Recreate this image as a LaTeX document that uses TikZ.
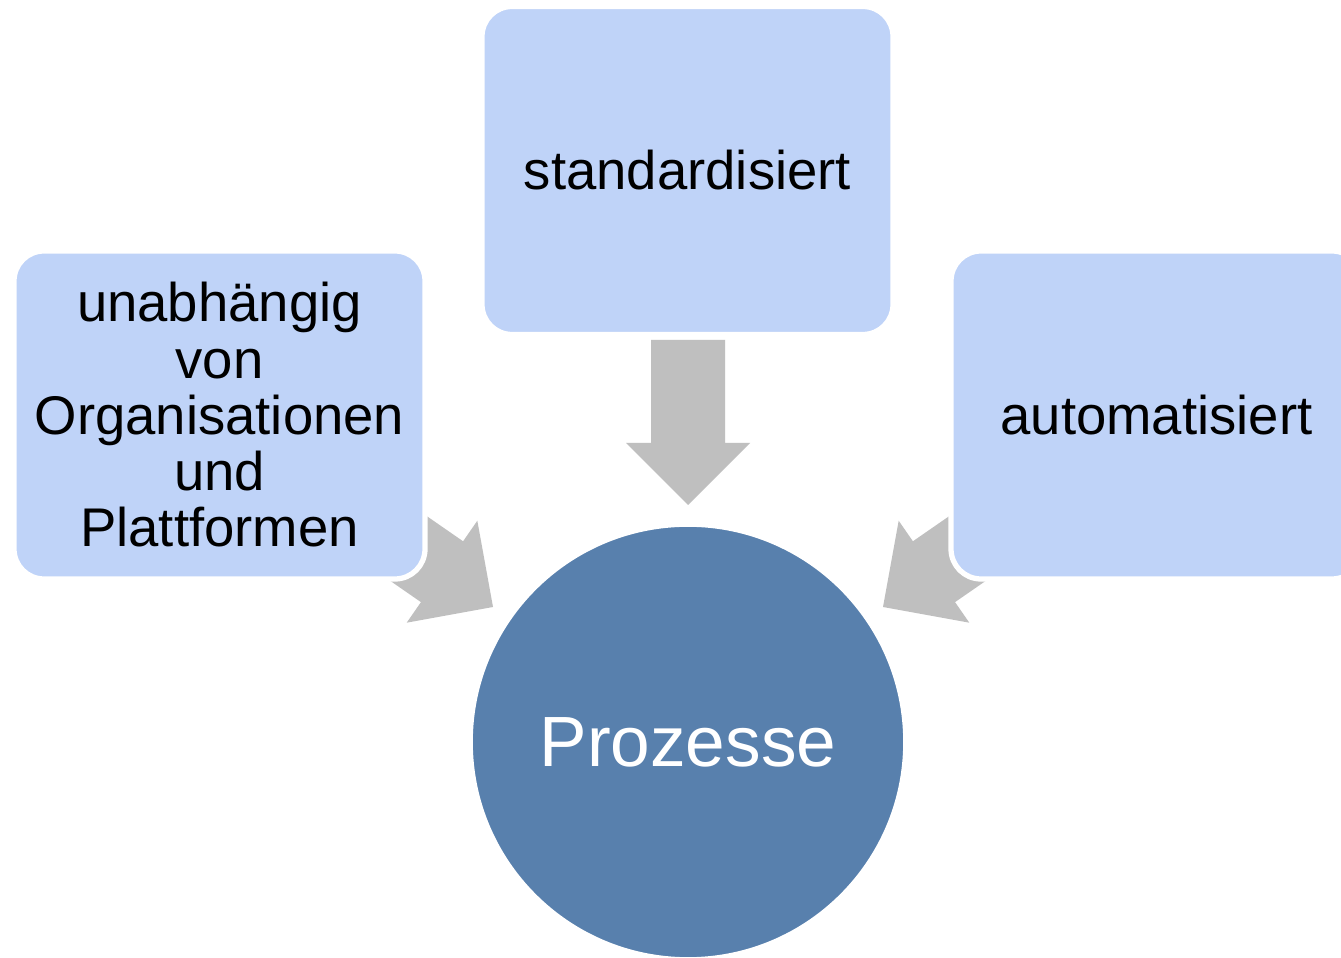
\documentclass[tikz,border=0pt]{standalone}
\usepackage{fontspec}
\setmainfont{Liberation Sans}
\usepackage{tikz}
\usetikzlibrary{calc}
\definecolor{boxblue}{RGB}{191,211,248}
\definecolor{procblue}{RGB}{88,128,173}
\definecolor{arrowgray}{RGB}{191,191,191}
\def\blockarrow[#1](#2)(#3){\fill[#1, shift={(#2)}, rotate=#3] (0,0) -- (-1.24,1.24) -- (-1.24,0.74) -- (-3.3,0.74) -- (-3.3,-0.74) -- (-1.24,-0.74) -- (-1.24,-1.24) -- cycle;}

\begin{document}
\begin{tikzpicture}[
	propbox/.style={rectangle, rounded corners=0.6cm, fill=boxblue, draw=white, line width=3pt, minimum width=8.22cm, minimum height=6.56cm, align=center, font=\fontsize{31}{32}\selectfont},
	proccircle/.style={circle, fill=procblue, draw=white, line width=1.5pt, minimum size=8.66cm, text=white, font=\fontsize{40.5}{48}\selectfont}]
			%%%%% START %%%%%
			
			\useasboundingbox (0, 0) rectangle (26.82, 19.14);
			\clip (0, 0) rectangle (26.82, 19.14);
			\fill[white] (0, 0) rectangle (26.82, 19.14);
			
			\coordinate (tipleft) at (9.86, 7.00);
			\coordinate (tiptop) at (13.76, 9.04);
			\coordinate (tipright) at (17.66, 7.00);
			
			\blockarrow[arrowgray](tipleft)(-34.7)
			\blockarrow[arrowgray](tiptop)(-90)
			\blockarrow[arrowgray](tipright)(214.7)
			
			\node[propbox] (unabh) at (4.39, 10.84) {unabhängig\\von\\Organisationen\\und\\Plattformen};
			\node[propbox] (standard) at (13.75, 15.73) {standardisiert};
			\node[propbox] (auto) at (23.13, 10.84) {automatisiert};
			
			\node[proccircle] (proz) at (13.76, 4.30) {Prozesse};
			
			%%%%% END %%%%%
\end{tikzpicture}
\end{document}
